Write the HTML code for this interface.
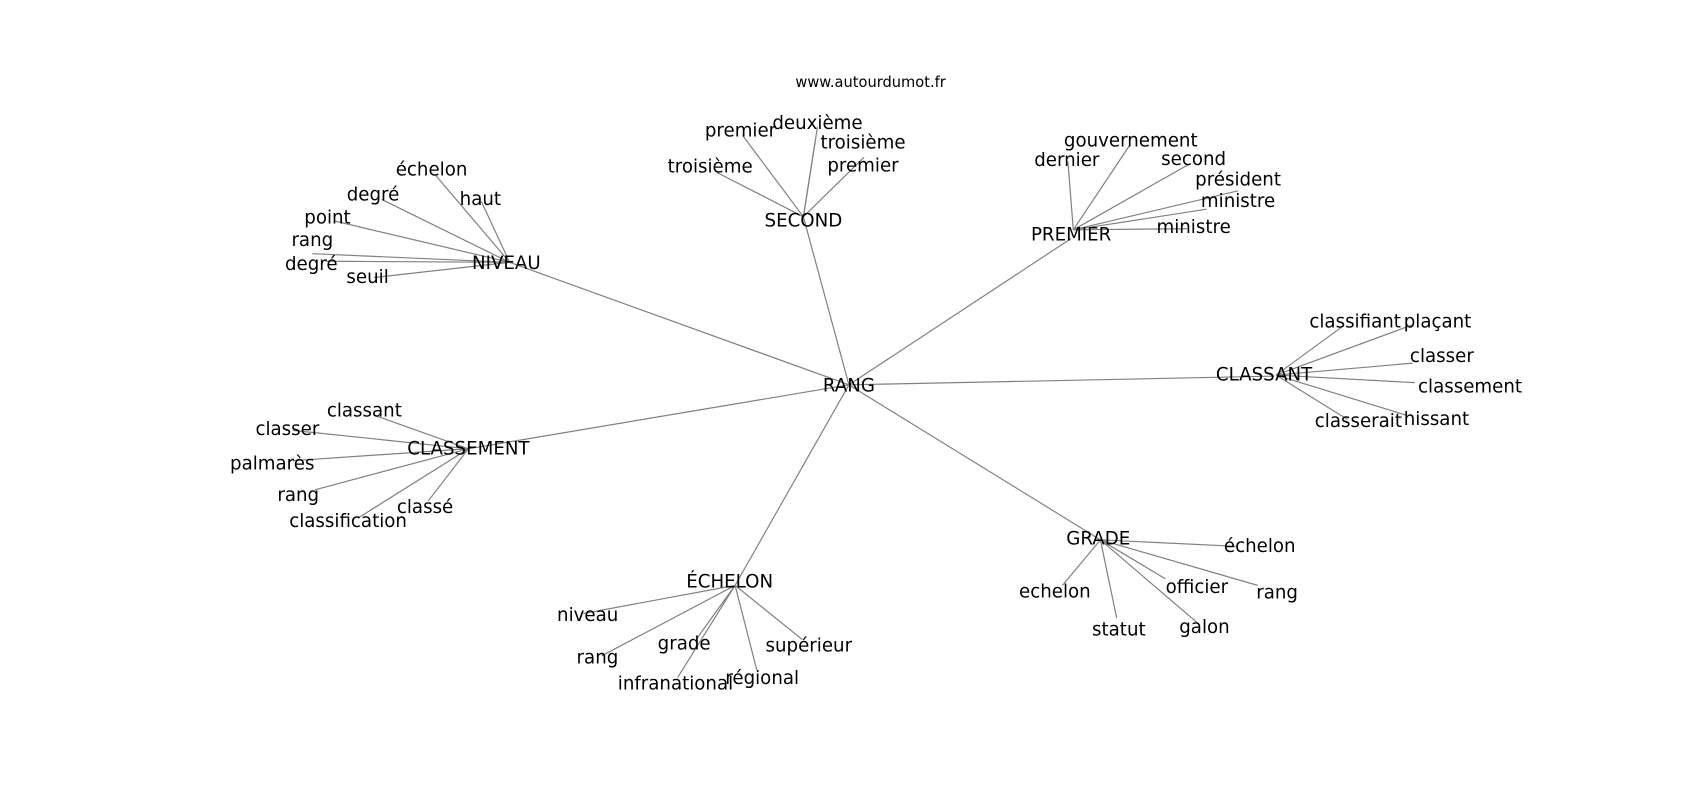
<!DOCTYPE html>
<html><head><meta charset="utf-8"><style>
html,body{margin:0;padding:0;background:#fff;}
svg{display:block;}
text{font-family:"DejaVu Sans","Liberation Sans",sans-serif;font-size:16.8px;fill:#000;text-anchor:middle;dominant-baseline:central;}
line{stroke:#808080;stroke-width:1.1;}
</style></head><body>
<svg width="1700" height="800" viewBox="0 0 1568 738" xmlns="http://www.w3.org/2000/svg">
<g>
<line x1="783" y1="355" x2="470" y2="242"/>
<line x1="783" y1="355" x2="741" y2="200"/>
<line x1="783" y1="355" x2="988" y2="220"/>
<line x1="783" y1="355" x2="1175" y2="347"/>
<line x1="783" y1="355" x2="1015" y2="498"/>
<line x1="783" y1="355" x2="678" y2="540"/>
<line x1="783" y1="355" x2="432" y2="414"/>
<line x1="470" y1="242" x2="402" y2="162"/>
<line x1="470" y1="242" x2="444" y2="186"/>
<line x1="470" y1="242" x2="352" y2="184"/>
<line x1="470" y1="242" x2="309" y2="204"/>
<line x1="470" y1="242" x2="288" y2="234"/>
<line x1="470" y1="242" x2="300" y2="241"/>
<line x1="470" y1="242" x2="345" y2="256"/>
<line x1="741" y1="200" x2="661" y2="159"/>
<line x1="741" y1="200" x2="685" y2="125"/>
<line x1="741" y1="200" x2="754" y2="117"/>
<line x1="741" y1="200" x2="752" y2="130"/>
<line x1="741" y1="200" x2="797" y2="145"/>
<line x1="990" y1="212" x2="985" y2="149"/>
<line x1="990" y1="212" x2="1042" y2="134"/>
<line x1="990" y1="212" x2="1096" y2="152"/>
<line x1="990" y1="212" x2="1142" y2="176"/>
<line x1="990" y1="212" x2="1113" y2="193"/>
<line x1="990" y1="212" x2="1095" y2="211"/>
<line x1="1177" y1="346" x2="1240" y2="300"/>
<line x1="1177" y1="346" x2="1302" y2="300"/>
<line x1="1177" y1="346" x2="1303" y2="335"/>
<line x1="1177" y1="346" x2="1305" y2="353"/>
<line x1="1177" y1="346" x2="1243" y2="387"/>
<line x1="1177" y1="346" x2="1297" y2="383"/>
<line x1="1015" y1="498" x2="1140" y2="504"/>
<line x1="1015" y1="498" x2="1075" y2="534"/>
<line x1="1015" y1="498" x2="1160" y2="540"/>
<line x1="1015" y1="498" x2="1105" y2="575"/>
<line x1="1015" y1="498" x2="1030" y2="570"/>
<line x1="1015" y1="498" x2="980" y2="540"/>
<line x1="678" y1="540" x2="538" y2="566"/>
<line x1="678" y1="540" x2="555" y2="605"/>
<line x1="678" y1="540" x2="642" y2="590"/>
<line x1="678" y1="540" x2="625" y2="625"/>
<line x1="678" y1="540" x2="698" y2="618"/>
<line x1="678" y1="540" x2="740" y2="590"/>
<line x1="432" y1="414" x2="345" y2="383"/>
<line x1="432" y1="414" x2="270" y2="397"/>
<line x1="432" y1="414" x2="270" y2="425"/>
<line x1="432" y1="414" x2="290" y2="452"/>
<line x1="432" y1="414" x2="330" y2="478"/>
<line x1="432" y1="414" x2="395" y2="462"/>
</g>
<text x="803" y="76" style="font-size:13.5px">www.autourdumot.fr</text>
<text x="783" y="356">RANG</text>
<text x="467" y="243">NIVEAU</text>
<text x="398" y="157">échelon</text>
<text x="443" y="184">haut</text>
<text x="344" y="180">degré</text>
<text x="302" y="201">point</text>
<text x="288" y="222">rang</text>
<text x="287" y="244">degré</text>
<text x="339" y="256">seuil</text>
<text x="741" y="204">SECOND</text>
<text x="683" y="121">premier</text>
<text x="754" y="114">deuxième</text>
<text x="796" y="132">troisième</text>
<text x="655" y="154">troisième</text>
<text x="796" y="153">premier</text>
<text x="988" y="217">PREMIER</text>
<text x="1043" y="130">gouvernement</text>
<text x="984" y="148">dernier</text>
<text x="1101" y="147">second</text>
<text x="1142" y="166">président</text>
<text x="1142" y="186">ministre</text>
<text x="1101" y="210">ministre</text>
<text x="1166" y="346">CLASSANT</text>
<text x="1250" y="297">classifiant</text>
<text x="1326" y="297">plaçant</text>
<text x="1330" y="329">classer</text>
<text x="1356" y="357">classement</text>
<text x="1253" y="389">classerait</text>
<text x="1325" y="387">hissant</text>
<text x="1013" y="497">GRADE</text>
<text x="1162" y="504">échelon</text>
<text x="1104" y="542">officier</text>
<text x="1178" y="547">rang</text>
<text x="1111" y="579">galon</text>
<text x="1032" y="581">statut</text>
<text x="973" y="546">echelon</text>
<text x="673" y="537">ÉCHELON</text>
<text x="542" y="568">niveau</text>
<text x="551" y="607">rang</text>
<text x="631" y="594">grade</text>
<text x="623" y="631">infranational</text>
<text x="703" y="626">régional</text>
<text x="746" y="596">supérieur</text>
<text x="432" y="414">CLASSEMENT</text>
<text x="336" y="379">classant</text>
<text x="265" y="396">classer</text>
<text x="251" y="428">palmarès</text>
<text x="275" y="457">rang</text>
<text x="321" y="481">classification</text>
<text x="392" y="468">classé</text>
</svg>
</body></html>
